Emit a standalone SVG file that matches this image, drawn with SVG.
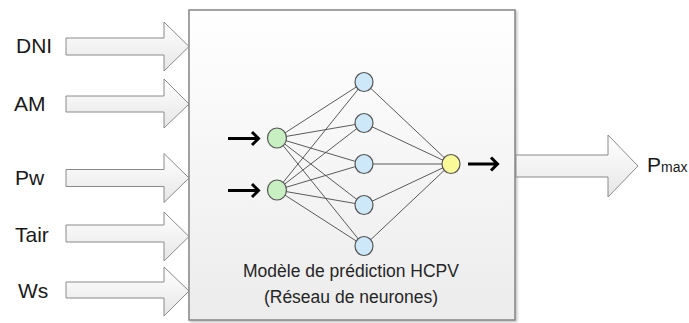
<svg xmlns="http://www.w3.org/2000/svg" width="689" height="323" viewBox="0 0 689 323">
  <defs>
    <linearGradient id="boxFill" x1="0" y1="0" x2="0" y2="1">
      <stop offset="0" stop-color="#ffffff"/>
      <stop offset="1" stop-color="#ececec"/>
    </linearGradient>
    <linearGradient id="arrowFill" x1="0" y1="0" x2="0" y2="1">
      <stop offset="0" stop-color="#ffffff"/>
      <stop offset="1" stop-color="#e6e6e6"/>
    </linearGradient>
    <filter id="shadow" x="-5%" y="-5%" width="110%" height="110%">
      <feDropShadow dx="1.5" dy="1.5" stdDeviation="1" flood-color="#000" flood-opacity="0.25"/>
    </filter>
  </defs>
  <style>
    .label { font-family: "Liberation Sans", Arial, sans-serif; font-size: 21px; fill: #1a1a1a; }
    .caption { font-family: "Liberation Sans", Arial, sans-serif; font-size: 17.5px; fill: #262626; text-anchor: middle; }
    .fat { fill: url(#arrowFill); stroke: #8a8a8a; stroke-width: 1; }
    .edge { stroke: #5a5a5a; stroke-width: 1; fill: none; }
    .ptr { stroke: #000; stroke-width: 3; fill: none; stroke-linecap: butt; }
    .inN { fill: #c7efc1; stroke: #555; stroke-width: 1.2; }
    .hidN { fill: #cde8f8; stroke: #555; stroke-width: 1.2; }
    .outN { fill: #fbfa98; stroke: #555; stroke-width: 1.2; }
  </style>

  <!-- model block -->
  <g id="model">
    <rect x="189" y="10" width="326" height="310" fill="url(#boxFill)" stroke="#858585" stroke-width="1.5" filter="url(#shadow)"/>
    <text class="caption" x="351" y="277">Modèle de prédiction HCPV</text>
    <text class="caption" x="351" y="303">(Réseau de neurones)</text>
  </g>

  <!-- input block arrows -->
  <g id="in-DNI">
    <path class="fat" d="M66,38 H164 V22 L189,46.5 L164,71 V55 H66 Z"/>
    <text class="label" x="16" y="53">DNI</text>
  </g>
  <g id="in-AM">
    <path class="fat" d="M66,96 H164 V79 L189,104 L164,128 V112 H66 Z"/>
    <text class="label" x="14" y="111">AM</text>
  </g>
  <g id="in-Pw">
    <path class="fat" d="M66,169.5 H164 V153.5 L189,178 L164,202.5 V186.5 H66 Z"/>
    <text class="label" x="15" y="185">Pw</text>
  </g>
  <g id="in-Tair">
    <path class="fat" d="M66,225 H164 V212 L189,236.5 L164,261 V242 H66 Z"/>
    <text class="label" x="15" y="242">Tair</text>
  </g>
  <g id="in-Ws">
    <path class="fat" d="M66,282 H164 V267 L189,291 L164,316 V298 H66 Z"/>
    <text class="label" x="18" y="298">Ws</text>
  </g>

  <!-- output block arrow -->
  <g id="out-Pmax">
    <path class="fat" d="M516,155 H608 V135 L638,166 L608,197 V177 H516 Z"/>
    <text class="label" x="647" y="172">P<tspan font-size="14">max</tspan></text>
  </g>

  <!-- network connections -->
  <g id="connectors">
    <g class="edge">
      <line x1="277" y1="138" x2="364" y2="82"/>
      <line x1="277" y1="138" x2="364" y2="123"/>
      <line x1="277" y1="138" x2="364" y2="164"/>
      <line x1="277" y1="138" x2="364" y2="205"/>
      <line x1="277" y1="138" x2="364" y2="246"/>
      <line x1="277" y1="190" x2="364" y2="82"/>
      <line x1="277" y1="190" x2="364" y2="123"/>
      <line x1="277" y1="190" x2="364" y2="164"/>
      <line x1="277" y1="190" x2="364" y2="205"/>
      <line x1="277" y1="190" x2="364" y2="246"/>
      <line x1="364" y1="82" x2="451" y2="164"/>
      <line x1="364" y1="123" x2="451" y2="164"/>
      <line x1="364" y1="164" x2="451" y2="164"/>
      <line x1="364" y1="205" x2="451" y2="164"/>
      <line x1="364" y1="246" x2="451" y2="164"/>
    </g>
    <!-- signal pointers -->
    <path class="ptr" d="M228,138.5 H258 M252,132 L258.5,138.5 L252,145"/>
    <path class="ptr" d="M228,190.5 H258 M252,184 L258.5,190.5 L252,197"/>
    <path class="ptr" d="M468,164 H497 M491,157.5 L497.5,164 L491,170.5"/>
  </g>

  <!-- neurons -->
  <g id="input-layer">
    <ellipse class="inN" cx="277" cy="138" rx="9.5" ry="10"/>
    <ellipse class="inN" cx="277" cy="190" rx="9.5" ry="10"/>
  </g>
  <g id="hidden-layer">
    <ellipse class="hidN" cx="364" cy="82" rx="9" ry="9.5"/>
    <ellipse class="hidN" cx="364" cy="123" rx="9" ry="9.5"/>
    <ellipse class="hidN" cx="364" cy="164" rx="9" ry="9.5"/>
    <ellipse class="hidN" cx="364" cy="205" rx="9" ry="9.5"/>
    <ellipse class="hidN" cx="364" cy="246" rx="9" ry="9.5"/>
  </g>
  <g id="output-layer">
    <ellipse class="outN" cx="451" cy="164" rx="9" ry="9.5"/>
  </g>
</svg>
